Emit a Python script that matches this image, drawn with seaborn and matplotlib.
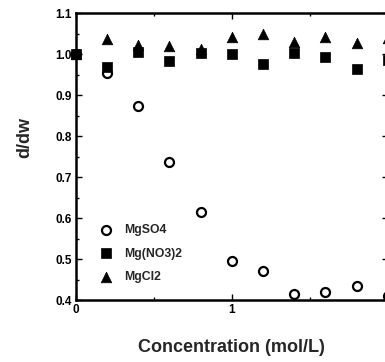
import matplotlib
matplotlib.use("Agg")
import matplotlib.pyplot as plt
from matplotlib.ticker import MultipleLocator
import seaborn as sns
import pandas as pd

conc = [0.0, 0.2, 0.4, 0.6, 0.8, 1.0, 1.2, 1.4, 1.6, 1.8, 2.0]
mgso4 = [1.000, 0.954, 0.873, 0.737, 0.615, 0.495, 0.471, 0.415, 0.420, 0.434, 0.410]
mgno3 = [1.000, 0.968, 1.005, 0.983, 1.002, 1.000, 0.975, 1.003, 0.993, 0.963, 0.985]
mgcl2 = [1.000, 1.036, 1.022, 1.020, 1.012, 1.042, 1.049, 1.030, 1.041, 1.026, 1.038]
labels = ["MgSO4", "Mg(NO3)2", "MgCl2"]

sns.set_style("ticks")
plt.rcParams['font.family'] = ['Liberation Sans', 'DejaVu Sans']

fig = plt.figure(figsize=(3.85, 3.62), dpi=100)
ax = fig.add_axes([0.197, 0.171, 0.81, 0.793])

df1 = pd.DataFrame({"x": conc, "y": mgso4})
df2 = pd.DataFrame({"x": conc, "y": mgno3})
df3 = pd.DataFrame({"x": conc, "y": mgcl2})

sns.scatterplot(data=df1, x="x", y="y", ax=ax, marker="o", s=42,
                facecolors="white", edgecolor="black", linewidth=1.6,
                label=labels[0], clip_on=False, zorder=3)
sns.scatterplot(data=df2, x="x", y="y", ax=ax, marker="s", s=48,
                color="black", edgecolor="black", linewidth=0.5,
                label=labels[1], clip_on=False, zorder=4)
sns.scatterplot(data=df3, x="x", y="y", ax=ax, marker="^", s=58,
                color="black", edgecolor="black", linewidth=0.5,
                label=labels[2], clip_on=False, zorder=5)

ax.set_xlim(0, 2.0)
ax.set_ylim(0.4, 1.1)
ax.xaxis.set_major_locator(MultipleLocator(1))
ax.xaxis.set_minor_locator(MultipleLocator(0.5))
ax.yaxis.set_major_locator(MultipleLocator(0.1))
ax.yaxis.set_minor_locator(MultipleLocator(0.05))
ax.set_xticks([0, 1])
ax.set_xticklabels(["0", "1"])
ax.set_yticks([0.4, 0.5, 0.6, 0.7, 0.8, 0.9, 1.0, 1.1])
ax.set_yticklabels(["0.4", "0.5", "0.6", "0.7", "0.8", "0.9", "1.0", "1.1"])

for s in ax.spines.values():
    s.set_linewidth(1.8)
    s.set_color("black")

ax.tick_params(axis="both", which="both", direction="in", top=True, right=True,
               colors="black", width=1.0)
ax.tick_params(which="major", length=4, labelsize=8.5, pad=3)
ax.tick_params(which="minor", length=2)
for t in ax.get_xticklabels() + ax.get_yticklabels():
    t.set_fontweight("bold")

ax.set_xlabel("Concentration (mol/L)", fontsize=13, fontweight="bold", va="center")
ax.xaxis.set_label_coords(0.50, -0.165)
ax.set_ylabel("d/dw", fontsize=13, fontweight="bold", va="center")
ax.yaxis.set_label_coords(-0.163, 0.568)

leg = ax.legend(loc="lower left", bbox_to_anchor=(0.03, 0.03), frameon=False,
                prop={"size": 8.8, "weight": "bold"},
                handletextpad=0.5, labelspacing=0.92, borderaxespad=0.3)

fig.savefig("out.png", dpi=100)
